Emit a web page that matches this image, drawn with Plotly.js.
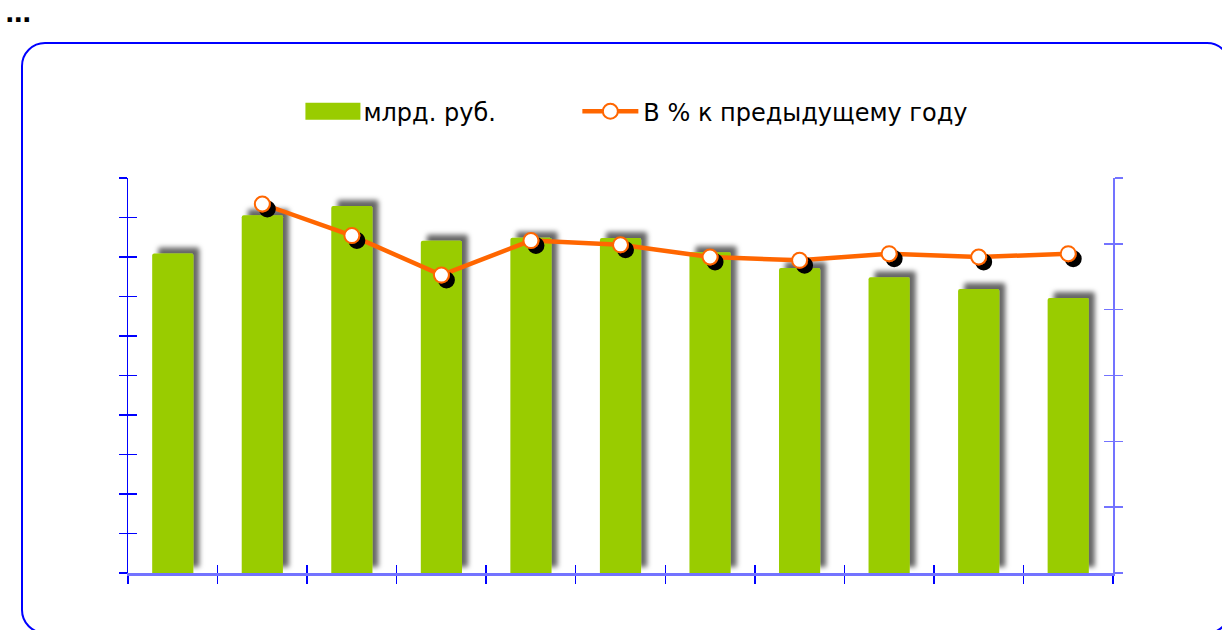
<!DOCTYPE html>
<html><head><meta charset="utf-8">
<script src="https://cdn.plot.ly/plotly-3.0.1.min.js"></script>
<style>
html,body{margin:0;padding:0;background:#fff;width:1222px;height:630px;overflow:hidden;position:relative;}
#dots{position:absolute;left:5px;top:-1px;font:bold 25px "DejaVu Sans",sans-serif;color:#000;letter-spacing:-1px;}
#frame{position:absolute;left:21px;top:42px;width:1210px;height:592px;border:2.5px solid #0000ff;border-radius:24px;box-sizing:border-box;pointer-events:none;}
#chart{position:absolute;left:0;top:0;width:1222px;height:630px;}
</style></head><body>
<svg width="0" height="0" style="position:absolute">
  <defs>
    <filter id="barShadow" x="-50%" y="-50%" width="200%" height="200%">
      <feDropShadow dx="6" dy="-6" stdDeviation="2.5" flood-color="#000" flood-opacity="0.6"/>
    </filter>
    <filter id="ptShadow" x="-50%" y="-50%" width="200%" height="200%">
      <feDropShadow dx="5" dy="5" stdDeviation="0" flood-color="#000" flood-opacity="1"/>
    </filter>
  </defs>
</svg>
<div id="dots">...</div>
<div id="chart"></div>
<div id="frame"></div>
<script>
// Data (categories are not labelled in the reference)
var categories = ["1","2","3","4","5","6","7","8","9","10","11"];
var barName = "млрд. руб.";
var barValues = [80.9, 90.6, 92.9, 84.1, 84.9, 84.8, 81.2, 77.2, 74.9, 71.9, 69.6];
var lineName = "В % к предыдущему году";
var lineCategories = ["2","3","4","5","6","7","8","9","10","11"];
var lineValues = [112.1, 102.5, 90.5, 101.0, 99.7, 96.0, 95.0, 97.0, 96.0, 97.0];

var BLUE = "#0000ff";
var BLUE_L = "rgba(0,0,255,0.55)";

var traces = [
  {
    type: "bar", name: barName, x: categories, y: barValues,
    marker: {color: "#99cc00", cornerradius: 2},
    xaxis: "x", yaxis: "y", hoverinfo: "skip", legend: "legend"
  },
  {
    type: "scatter", mode: "lines+markers", name: lineName,
    x: lineCategories, y: lineValues,
    line: {color: "#ff6600", width: 4.5},
    marker: {symbol: "circle", size: 15, color: "#ffffff", line: {color: "#ff6600", width: 2}},
    xaxis: "x", yaxis: "y2", hoverinfo: "skip", legend: "legend2"
  },
  // empty helper traces so the overlay axes (inner tick halves) are drawn
  {type: "scatter", x: [], y: [], xaxis: "x2", yaxis: "y3", showlegend: false, hoverinfo: "skip"},
  {type: "scatter", x: [], y: [], xaxis: "x2", yaxis: "y4", showlegend: false, hoverinfo: "skip"}
];

var common = {showgrid: false, zeroline: false, showticklabels: false, fixedrange: true};
var legendCommon = {
  orientation: "h", xanchor: "left", y: 1.168, yanchor: "middle",
  font: {size: 24, family: "DejaVu Sans, Verdana, sans-serif", color: "#000"},
  itemwidth: 56, bgcolor: "rgba(0,0,0,0)"
};
var layout = {
  width: 1222, height: 630,
  margin: {l: 128, r: 109, t: 178, b: 57, pad: 0},
  paper_bgcolor: "rgba(0,0,0,0)", plot_bgcolor: "rgba(0,0,0,0)",
  font: {family: "DejaVu Sans, Verdana, sans-serif", size: 24, color: "#000"},
  showlegend: true,
  bargap: 0.54,
  legend: Object.assign({}, legendCommon, {x: 0.172}),
  legend2: Object.assign({}, legendCommon, {x: 0.4562}),
  xaxis: Object.assign({}, common, {
    type: "category", categoryorder: "array", categoryarray: categories,
    range: [-0.5, categories.length - 0.5], tickson: "boundaries",
    ticks: "outside", ticklen: 8, tickwidth: 1.5, tickcolor: BLUE,
    showline: true, linecolor: BLUE_L, linewidth: 3
  }),
  xaxis2: Object.assign({}, common, {
    type: "category", categoryorder: "array", categoryarray: categories,
    overlaying: "x", anchor: "y", side: "bottom",
    range: [-0.5, categories.length - 0.5], tickson: "boundaries",
    ticks: "inside", ticklen: 8, tickwidth: 1.5, tickcolor: BLUE, showline: false
  }),
  yaxis: Object.assign({}, common, {
    range: [0, 100], dtick: 10, tick0: 0,
    ticks: "outside", ticklen: 8, tickwidth: 1.5, tickcolor: BLUE,
    showline: true, linecolor: BLUE, linewidth: 1.5
  }),
  yaxis2: Object.assign({}, common, {
    overlaying: "y", side: "right", anchor: "x",
    range: [0, 120], dtick: 20, tick0: 0,
    ticks: "outside", ticklen: 8, tickwidth: 1.5, tickcolor: BLUE_L,
    showline: true, linecolor: BLUE_L, linewidth: 2
  }),
  yaxis3: Object.assign({}, common, {
    overlaying: "y", side: "left", anchor: "x",
    range: [0, 100], dtick: 10, tick0: 0,
    ticks: "inside", ticklen: 9, tickwidth: 1.5, tickcolor: BLUE, showline: false
  }),
  yaxis4: Object.assign({}, common, {
    overlaying: "y", side: "right", anchor: "x",
    range: [0, 120], dtick: 20, tick0: 0,
    ticks: "inside", ticklen: 9, tickwidth: 1.5, tickcolor: BLUE_L, showline: false
  })
};

Plotly.newPlot("chart", traces, layout, {displayModeBar: false, staticPlot: true}).then(function (gd) {
  gd.querySelectorAll(".barlayer .point path").forEach(function (p) {
    p.setAttribute("filter", "url(#barShadow)");
  });
  gd.querySelectorAll(".scatterlayer .points path").forEach(function (p) {
    p.setAttribute("filter", "url(#ptShadow)");
  });
  // widen the bar legend swatch to the reference's rectangle
  gd.querySelectorAll(".legend path.legendbar, .legend .legendpoints path").forEach(function (sw) {
    if (sw.closest(".traces") && sw.closest(".traces").__data__ &&
        sw.closest(".traces").__data__[0].trace.type === "bar") {
      sw.setAttribute("d", "M-25,8.5H30V-8.5H-25Z");
    }
  });
});
</script>
</body></html>
